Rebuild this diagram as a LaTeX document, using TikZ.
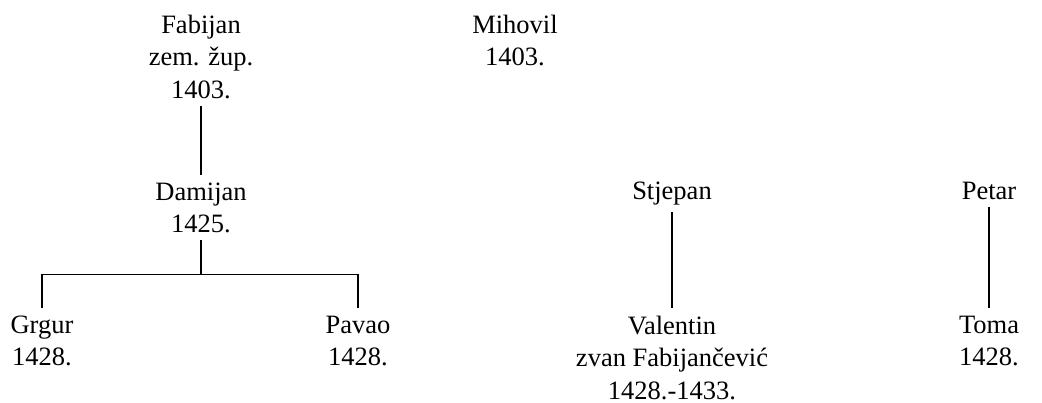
\documentclass[tikz,border=0pt]{standalone}
\usepackage{fontspec}
\setmainfont{Liberation Serif}
\usetikzlibrary{calc}
\begin{document}
\begin{tikzpicture}[x=1pt,y=-1pt,
  person/.style={align=center,inner xsep=0pt,inner ysep=7pt,anchor=north,
    font=\fontsize{26.5}{32.5}\selectfont},
  link/.style={line width=1.2pt}]
\useasboundingbox (0,0) rectangle (1042,403);
\node[person] (fab) at (201,7.9) {Fabijan\\zem. žup.\\1403.};
\node[person] (mih) at (515,7.9) {Mihovil\\1403.};
\node[person] (dam) at (201,175.5) {Damijan\\1425.};
\node[person] (stj) at (672,174.5) {Stjepan};
\node[person] (pet) at (989,174.5) {Petar};
\node[person] (grg) at (42,308.5) {Grgur\\1428.};
\node[person] (pav) at (358,308.5) {Pavao\\1428.};
\node[person] (val) at (672,308.5) {Valentin\\zvan Fabijančević\\1428.-1433.};
\node[person] (tom) at (989,308.5) {Toma\\1428.};
\draw[link] (fab.south) -- (fab.south |- dam.north);
\coordinate (fork) at ($(dam.south)!0.5!(dam.south |- grg.north)$);
\draw[link] (dam.south) -- (fork);
\draw[link] (grg.north) |- (fork) -| (pav.north);
\draw[link] (stj.south) -- (val.north);
\draw[link] (pet.south) -- (tom.north);
\end{tikzpicture}
\end{document}
